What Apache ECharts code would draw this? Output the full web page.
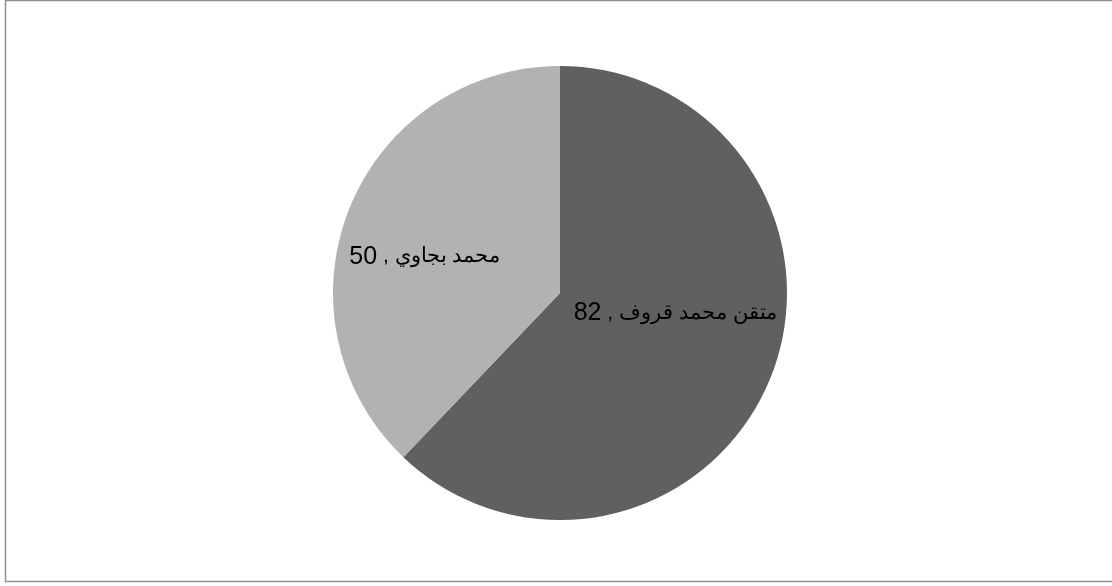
<!DOCTYPE html>
<html>
<head>
<meta charset="utf-8">
<script src="https://cdn.jsdelivr.net/npm/echarts@6/dist/echarts.min.js"></script>
<style>
  html, body { margin: 0; padding: 0; background: #fff; }
  #box { width: 1112px; height: 586px; }
</style>
</head>
<body>
<div id="box"></div>
<script>
const names = ['متقن محمد قروف', 'محمد بجاوي'];
const values = [82, 50];
const colors = ['#606060', '#b2b2b2'];
// nudge labels to where the original put them
const labelShift = [[7, -23], [-27, 7]];

const chart = echarts.init(document.getElementById('box'));
chart.setOption({
  animation: false,
  graphic: [{
    type: 'rect',
    shape: { x: 5.5, y: 0.5, width: 1110, height: 581 },
    style: { fill: 'none', stroke: '#8f8f8f', lineWidth: 1.5 }
  }],
  series: [{
    type: 'pie',
    center: [560, 293],
    radius: 227,
    startAngle: 90,
    clockwise: true,
    silent: true,
    itemStyle: { borderWidth: 0 },
    label: {
      show: true,
      position: 'inside',
      formatter: p => '{n|' + p.value + '} , ' + p.name,
      color: '#000',
      fontFamily: 'Liberation Sans, Arial, sans-serif',
      fontSize: 21,
      rich: {
        n: { fontSize: 25, fontFamily: 'Liberation Sans, Arial, sans-serif', color: '#000' }
      }
    },
    labelLine: { show: false },
    labelLayout: p => ({ dx: labelShift[p.dataIndex][0], dy: labelShift[p.dataIndex][1] }),
    data: names.map((n, i) => ({
      name: n,
      value: values[i],
      itemStyle: { color: colors[i] }
    }))
  }]
});
</script>
</body>
</html>
